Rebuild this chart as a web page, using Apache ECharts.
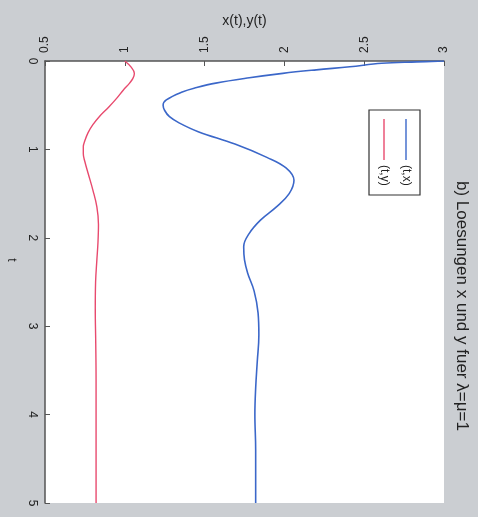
<!DOCTYPE html>
<html>
<head>
<meta charset="utf-8">
<script src="https://cdn.jsdelivr.net/npm/echarts@6/dist/echarts.min.js"></script>
<style>
html,body{margin:0;padding:0;background:#cbced2;}
#chart{width:478px;height:517px;}
</style>
</head>
<body>
<div id="chart"></div>
<script>
// t values and solution values
const tX = [0, 0.01, 0.025, 0.065, 0.1, 0.14, 0.19, 0.25, 0.3, 0.35, 0.44, 0.5, 0.56, 0.63, 0.7, 0.8, 0.94, 1.09, 1.21, 1.35, 1.5, 1.65, 1.8, 1.95, 2.1, 2.25, 2.4, 2.6, 2.85, 3.1, 3.4, 3.7, 4.0, 4.4, 5.0];
const xVals = [3.0, 2.83, 2.61, 2.41, 2.2, 1.99, 1.78, 1.57, 1.45, 1.36, 1.26, 1.24, 1.25, 1.28, 1.34, 1.46, 1.69, 1.89, 2.01, 2.06, 2.03, 1.95, 1.85, 1.78, 1.745, 1.75, 1.77, 1.81, 1.835, 1.84, 1.83, 1.82, 1.815, 1.82, 1.82];
const tY = [0, 0.07, 0.14, 0.2, 0.25, 0.33, 0.42, 0.52, 0.63, 0.72, 0.81, 0.9, 0.97, 1.05, 1.14, 1.27, 1.46, 1.65, 1.85, 2.05, 2.25, 2.5, 2.8, 3.2, 3.6, 4.2, 5.0];
const yVals = [1.0, 1.04, 1.06, 1.05, 1.03, 0.99, 0.95, 0.9, 0.84, 0.8, 0.77, 0.75, 0.74, 0.74, 0.75, 0.77, 0.8, 0.825, 0.835, 0.832, 0.825, 0.817, 0.815, 0.818, 0.82, 0.82, 0.82];
const seriesNames = ['(t,x)', '(t,y)'];
const titleText = 'b) Loesungen x und y fuer \u03bb=\u03bc=1';
const valueAxisName = 'x(t),y(t)';
const timeAxisName = 't';

const blue = '#3b67c9', red = '#e84a6e';
const font = 'Liberation Sans';
const chart = echarts.init(document.getElementById('chart'));
chart.setOption({
  animation: false,
  backgroundColor: '#cbced2',
  grid: {left: 45, top: 61, right: 34, bottom: 14, show: true, backgroundColor: '#ffffff', borderWidth: 0,
         containLabel: false, outerBoundsMode: 'none'},
  xAxis: {
    type: 'value', position: 'top', min: 0.5, max: 3, interval: 0.5,
    name: valueAxisName, nameLocation: 'middle', nameGap: 31,
    nameTextStyle: {fontFamily: font, fontSize: 14, color: '#222'},
    axisLine: {show: true, onZero: false, lineStyle: {color: '#555', width: 1.5}},
    axisTick: {show: true, inside: true, length: 5, lineStyle: {color: '#555'}},
    axisLabel: {rotate: -90, margin: 8, fontFamily: font, fontSize: 12, color: '#222'},
    splitLine: {show: false}
  },
  yAxis: {
    type: 'value', inverse: true, min: 0, max: 5, interval: 1,
    name: timeAxisName, nameLocation: 'middle', nameGap: 28, nameRotate: -90,
    nameTextStyle: {fontFamily: font, fontSize: 12, color: '#222', padding: [0, 44, 0, 0]},
    axisLine: {show: true, onZero: false, lineStyle: {color: '#555', width: 1.5}},
    axisTick: {show: true, inside: true, length: 5, lineStyle: {color: '#555'}},
    axisLabel: {rotate: -90, margin: 7, fontFamily: font, fontSize: 12, color: '#222'},
    splitLine: {show: false}
  },
  series: [
    {name: seriesNames[0], type: 'line', showSymbol: false, smooth: 0.4,
     lineStyle: {color: blue, width: 1.6}, itemStyle: {color: blue},
     data: tX.map((t, i) => [xVals[i], t])},
    {name: seriesNames[1], type: 'line', showSymbol: false, smooth: 0.4,
     lineStyle: {color: red, width: 1.4}, itemStyle: {color: red},
     data: tY.map((t, i) => [yVals[i], t])}
  ],
  graphic: [
    {type: 'text', x: 462, y: 181, rotation: -Math.PI / 2,
     style: {text: titleText, fontFamily: font, fontSize: 17, fill: '#222', textAlign: 'left', textVerticalAlign: 'middle'}},
    {type: 'rect', shape: {x: 369, y: 110, width: 51, height: 85},
     style: {fill: '#fff', stroke: '#333', lineWidth: 1.2}},
    {type: 'line', shape: {x1: 406, y1: 119, x2: 406, y2: 160}, style: {stroke: blue, lineWidth: 1.4}},
    {type: 'line', shape: {x1: 384, y1: 119, x2: 384, y2: 160}, style: {stroke: red, lineWidth: 1.4}},
    {type: 'text', x: 406, y: 165, rotation: -Math.PI / 2,
     style: {text: seriesNames[0], fontFamily: font, fontSize: 12, fill: '#222', textAlign: 'left', textVerticalAlign: 'middle'}},
    {type: 'text', x: 384, y: 165, rotation: -Math.PI / 2,
     style: {text: seriesNames[1], fontFamily: font, fontSize: 12, fill: '#222', textAlign: 'left', textVerticalAlign: 'middle'}}
  ]
});
</script>
</body>
</html>
